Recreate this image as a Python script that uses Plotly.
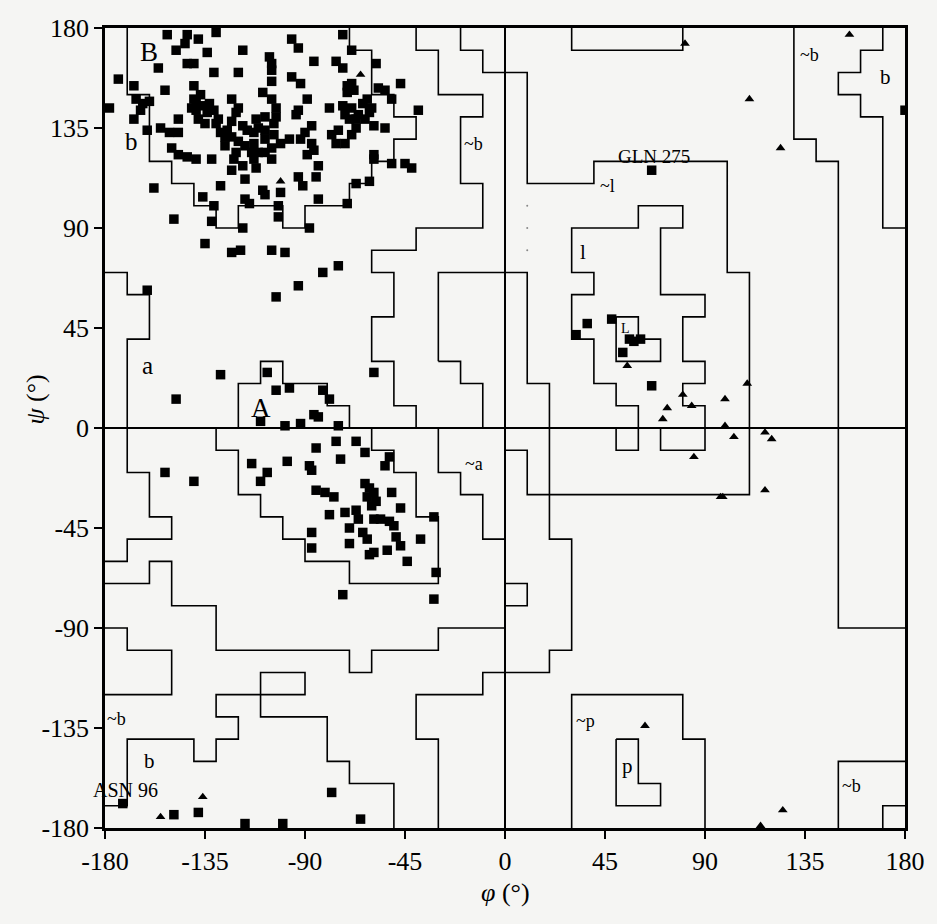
import plotly.graph_objects as go

# ---------------- data (degrees) ----------------
TICK_VALUES = [-180, -135, -90, -45, 0, 45, 90, 135, 180]
TICK_TEXT = ["-180", "-135", "-90", "-45", "0", "45", "90", "135", "180"]

# non-glycine residues (squares), beta region
beta_squares = [
    (-152, 177), (-143, 177), (-144, 173), (-138, 175), (-130, 178), (-148, 170), (-134, 169),
    (-118, 170), (-106, 167), (-105, 164), (-96, 175), (-93, 171), (-73, 177), (-69, 170),
    (-86, 165), (-76, 165), (-73, 162), (-58, 164), (-71, 154), (-68, 152), (-71, 151), (-69, 155),
    (-156, 162), (-143, 164), (-140, 164), (-131, 160), (-120, 160), (-105, 161), (-96, 158),
    (-92, 155), (-89, 148), (-105, 156), (-174, 157), (-167, 154), (-153, 152), (-140, 154),
    (-137, 150), (-139, 146), (-133, 146), (-131, 143), (-139, 143), (-138, 139), (-123, 148),
    (-120, 144), (-121, 142), (-109, 151), (-105, 148), (-103, 144), (-108, 140), (-103, 140),
    (-104, 137), (-166, 148), (-163, 146), (-160, 147), (-164, 143), (-167, 139), (-161, 134),
    (-155, 135), (-147, 139), (-147, 133), (-135, 137), (-130, 137), (-128, 133), (-125, 134),
    (-123, 131), (-126, 127), (-116, 134), (-113, 133), (-111, 135), (-108, 134), (-120, 129),
    (-117, 127), (-113, 128), (-108, 130), (-104, 132), (-101, 128), (-105, 126), (-108, 124),
    (-105, 121), (-122, 121), (-123, 116), (-118, 118), (-113, 121), (-112, 117), (-117, 112),
    (-94, 141), (-93, 143), (-87, 136), (-92, 130), (-97, 130), (-90, 133), (-87, 128),
    (-86, 125), (-89, 123), (-84, 118), (-79, 144), (-72, 141), (-69, 144), (-66, 141),
    (-62, 148), (-60, 144), (-63, 139), (-67, 135), (-69, 132), (-75, 134), (-78, 132),
    (-76, 128), (-72, 128), (-59, 136), (-54, 135), (-57, 153), (-54, 152), (-51, 148),
    (-47, 155), (-39, 143), (-59, 123), (-59, 121), (-51, 119), (-45, 119), (-42, 117),
    (-67, 110), (-61, 111), (-71, 101), (-84, 103), (-93, 113), (-91, 109), (-85, 113),
    (-101, 106), (-102, 100), (-102, 95), (-109, 107), (-108, 105), (-117, 103), (-115, 101),
    (-128, 109), (-131, 100), (-136, 104), (-150, 126), (-147, 123), (-143, 122), (-139, 121),
    (-132, 121), (-151, 133), (-158, 108), (-149, 94), (-132, 93), (-118, 90), (-88, 90),
    (-135, 83), (-123, 79), (-119, 80), (-105, 80), (-99, 79), (-82, 70), (-75, 73),
    (-93, 64), (-103, 59), (-161, 62), (-178, 144),
    (-70, 139), (-64, 146), (-67, 139), (-61, 142), (-73, 145),
    (-140, 148), (-136, 145), (-141, 144), (-134, 142),
    (-129, 139), (-123, 138), (-118, 136), (-112, 139), (-114, 124), (-111, 124), (-121, 124), (-126, 131),
]

# non-glycine residues (squares), alpha region
alpha_squares = [
    (-59, 25), (-128, 24), (-148, 13), (-107, 25), (-103, 17), (-97, 18), (-82, 17), (-79, 13),
    (-86, 6), (-84, 5), (-110, 3), (-99, 1), (-92, 2), (-75, 1), (-76, -6), (-67, -6),
    (-85, -9), (-74, -14), (-63, -11), (-52, -13), (-54, -17), (-98, -15), (-114, -16),
    (-107, -20), (-110, -24), (-88, -17), (-87, -19), (-153, -20), (-140, -24), (-85, -28),
    (-81, -29), (-77, -31), (-63, -25), (-61, -27), (-59, -29), (-60, -35), (-51, -29),
    (-47, -36), (-79, -39), (-72, -38), (-67, -37), (-66, -41), (-70, -45), (-64, -47),
    (-62, -50), (-59, -41), (-56, -41), (-52, -42), (-50, -44), (-49, -49), (-47, -53),
    (-38, -50), (-32, -40), (-87, -47), (-87, -54), (-70, -52), (-61, -57), (-59, -56),
    (-53, -55), (-44, -60), (-31, -65), (-73, -75), (-32, -77), (-62, -31), (-58, -33),
]

# other non-glycine residues (squares)
other_squares = [
    (-78, -164), (-65, -176), (-117, -178), (-100, -178), (-138, -173), (-149, -174),
    (-172, -169), (37, 47), (32, 42), (48, 49), (56, 40), (58, 39), (61, 40), (53, 34),
    (66, 19), (66, 116), (180, 143),
]

# glycine residues (triangles)
glycine_triangles = [
    (-65, 159), (-101, 111), (-155, -175), (-136, -166), (81, 173), (155, 177), (110, 148),
    (124, 126), (55, 28), (80, 15), (84, 10), (73, 9), (71, 4), (99, 13), (109, 20), (99, 1),
    (103, -4), (117, -2), (120, -5), (85, -13), (97, -31), (98, -31), (117, -28), (63, -134),
    (125, -172), (115, -179),
]

# region boundaries (polylines on the 10-degree grid)
region_boundaries = [
    # B core
    [(-70, 180), (-70, 170), (-60, 170), (-60, 150), (-50, 150), (-50, 140), (-40, 140), (-40, 130),
     (-50, 130), (-50, 120), (-60, 120), (-60, 110), (-70, 110), (-70, 100), (-90, 100), (-90, 90),
     (-100, 90), (-100, 100), (-120, 100), (-120, 90), (-130, 90), (-130, 100), (-140, 100),
     (-140, 110), (-150, 110), (-150, 120), (-160, 120), (-160, 150), (-170, 150), (-170, 180)],
    # b / a allowed, right edge
    [(-40, 180), (-40, 170), (-30, 170), (-30, 150), (-10, 150), (-10, 140), (-20, 140), (-20, 110),
     (-10, 110), (-10, 90), (-40, 90), (-40, 80), (-60, 80), (-60, 70), (-50, 70), (-50, 50),
     (-60, 50), (-60, 30), (-50, 30), (-50, 10), (-40, 10), (-40, 0)],
    [(-30, 0), (-30, -20), (-20, -20), (-20, -30), (-10, -30), (-10, -50), (0, -50)],
    [(0, -90), (-30, -90), (-30, -100), (-60, -100), (-60, -110), (-70, -110), (-70, -100),
     (-130, -100), (-130, -80), (-150, -80), (-150, -60), (-160, -60), (-160, -70), (-180, -70)],
    # a allowed, left edge
    [(-180, 70), (-170, 70), (-170, 60), (-160, 60), (-160, 40), (-170, 40), (-170, -20),
     (-160, -20), (-160, -40), (-150, -40), (-150, -50), (-170, -50), (-170, -60), (-180, -60)],
    # A core
    [(-120, 0), (-120, 20), (-110, 20), (-110, 30), (-100, 30), (-100, 20), (-80, 20), (-80, 10),
     (-70, 10), (-70, 0), (-60, 0), (-60, -10), (-50, -10), (-50, -20), (-40, -20), (-40, -40),
     (-30, -40), (-30, -70), (-70, -70), (-70, -60), (-90, -60), (-90, -50), (-100, -50),
     (-100, -40), (-110, -40), (-110, -30), (-120, -30), (-120, -10), (-130, -10), (-130, 0)],
    # generously allowed, middle
    [(-30, 30), (-30, 70), (10, 70), (10, 20), (20, 20), (20, -50), (30, -50), (30, -100),
     (20, -100), (20, -110), (-10, -110), (-10, -120), (-40, -120), (-40, -140), (-30, -140),
     (-30, -180)],
    [(-30, 30), (-20, 30), (-20, 20), (-10, 20), (-10, 0)],
    # ~l
    [(-20, 180), (-20, 170), (-10, 170), (-10, 160), (10, 160), (10, 110), (40, 110), (40, 120),
     (100, 120), (100, 70), (110, 70), (110, -30), (10, -30), (10, -10), (0, -10)],
    [(30, 180), (30, 170), (80, 170), (80, 180)],
    # l
    [(50, 0), (50, -10), (60, -10), (60, 10), (50, 10), (50, 20), (40, 20), (40, 40), (30, 40),
     (30, 60), (40, 60), (40, 70), (30, 70), (30, 90), (60, 90), (60, 100), (80, 100), (80, 90),
     (70, 90), (70, 60), (90, 60), (90, 50), (80, 50), (80, 30), (90, 30), (90, 20), (80, 20),
     (80, 10), (90, 10), (90, -10), (70, -10), (70, 0)],
    # L core
    [(50, 50), (60, 50), (60, 40), (70, 40), (70, 30), (50, 30), (50, 50)],
    # ~p and p
    [(30, -180), (30, -120), (80, -120), (80, -140), (90, -140), (90, -180)],
    [(50, -140), (60, -140), (60, -160), (70, -160), (70, -170), (50, -170), (50, -140)],
    [(0, -70), (10, -70), (10, -80), (0, -80)],
    # right side b / ~b
    [(130, 180), (130, 130), (140, 130), (140, 120), (150, 120), (150, -90), (180, -90)],
    [(170, 180), (170, 170), (160, 170), (160, 160), (150, 160), (150, 150), (160, 150),
     (160, 140), (170, 140), (170, 90), (180, 90)],
    [(150, -180), (150, -150), (180, -150)],
    [(170, -180), (170, -170), (180, -170)],
    # lower-left b / ~b
    [(-180, -90), (-170, -90), (-170, -100), (-150, -100), (-150, -120), (-180, -120)],
    [(-180, -170), (-170, -170), (-170, -140), (-140, -140), (-140, -150), (-130, -150),
     (-130, -140), (-120, -140), (-120, -130), (-130, -130), (-130, -120), (-90, -120),
     (-90, -110), (-110, -110), (-110, -130), (-80, -130), (-80, -150), (-70, -150), (-70, -160),
     (-50, -160), (-50, -180)],
]

faint_dots = [(10, 100), (10, 90), (10, 80)]

# region labels: (text, phi, psi, font size)
region_labels = [
    ("B", -160, 169, 27), ("b", -168, 129, 25), ("a", -161, 28, 25), ("A", -110, 9, 27),
    ("~b", -14, 128, 18), ("~a", -14, -16, 18), ("~l", 46, 109, 18), ("l", 35, 79, 21),
    ("L", 54, 45, 14), ("GLN 275", 67, 122, 19), ("~b", 137, 168, 18), ("b", 171, 158, 21),
    ("~p", 36, -132, 18), ("p", 55, -152, 21), ("~b", 156, -161, 18), ("~b", -175, -131, 18),
    ("b", -160, -150, 21), ("ASN 96", -171, -163, 20),
]

# ---------------- figure ----------------
FONT = "Liberation Serif"
fig = go.Figure()

bx, by = [], []
for path in region_boundaries:
    for p, s in path:
        bx.append(p)
        by.append(s)
    bx.append(None)
    by.append(None)
fig.add_trace(go.Scatter(x=bx, y=by, mode="lines", line=dict(color="black", width=1.6),
                         hoverinfo="skip", showlegend=False))

fig.add_trace(go.Scatter(x=[p for p, s in faint_dots], y=[s for p, s in faint_dots], mode="markers",
                         marker=dict(color="#888", size=2), hoverinfo="skip", showlegend=False))

squares = beta_squares + alpha_squares + other_squares
fig.add_trace(go.Scatter(x=[p for p, s in squares], y=[s for p, s in squares], mode="markers",
                         marker=dict(symbol="square", size=9.5, color="black"), showlegend=False))
fig.add_trace(go.Scatter(x=[p for p, s in glycine_triangles], y=[s for p, s in glycine_triangles],
                         mode="markers", marker=dict(symbol="triangle-up", size=8.5, color="black"),
                         showlegend=False))

for text, p, s, size in region_labels:
    fig.add_annotation(x=p, y=s, text=text, showarrow=False, xref="x", yref="y",
                       xanchor="center", yanchor="middle",
                       font=dict(family=FONT, size=size, color="black"))

fig.add_annotation(x=0.5, y=-0.081, xref="paper", yref="paper", text="<i>φ</i> (°)",
                   showarrow=False, xanchor="center", yanchor="middle",
                   font=dict(family=FONT, size=26, color="black"))
fig.add_annotation(x=-0.088, y=0.535, xref="paper", yref="paper", text="<i>ψ</i> (°)",
                   showarrow=False, textangle=-90, xanchor="center", yanchor="middle",
                   font=dict(family=FONT, size=26, color="black"))

axis_common = dict(range=[-180, 180], tickvals=TICK_VALUES, ticktext=TICK_TEXT, ticks="outside",
                   ticklen=8, tickwidth=2, tickcolor="black", showline=True, linewidth=2.5,
                   linecolor="black", mirror=True, showgrid=False, zeroline=True,
                   zerolinecolor="black", zerolinewidth=1.6,
                   tickfont=dict(family=FONT, size=26, color="black"))
fig.update_xaxes(**axis_common)
fig.update_yaxes(**axis_common)

fig.update_layout(width=937, height=924, margin=dict(l=105, r=22, t=28, b=96),
                  paper_bgcolor="#f5f5f3", plot_bgcolor="#f5f5f3",
                  font=dict(family=FONT, color="black"), showlegend=False)

fig.write_html("out.html", config={"displayModeBar": False},
               post_script="document.body.style.margin='0';document.body.style.overflow='hidden';")
